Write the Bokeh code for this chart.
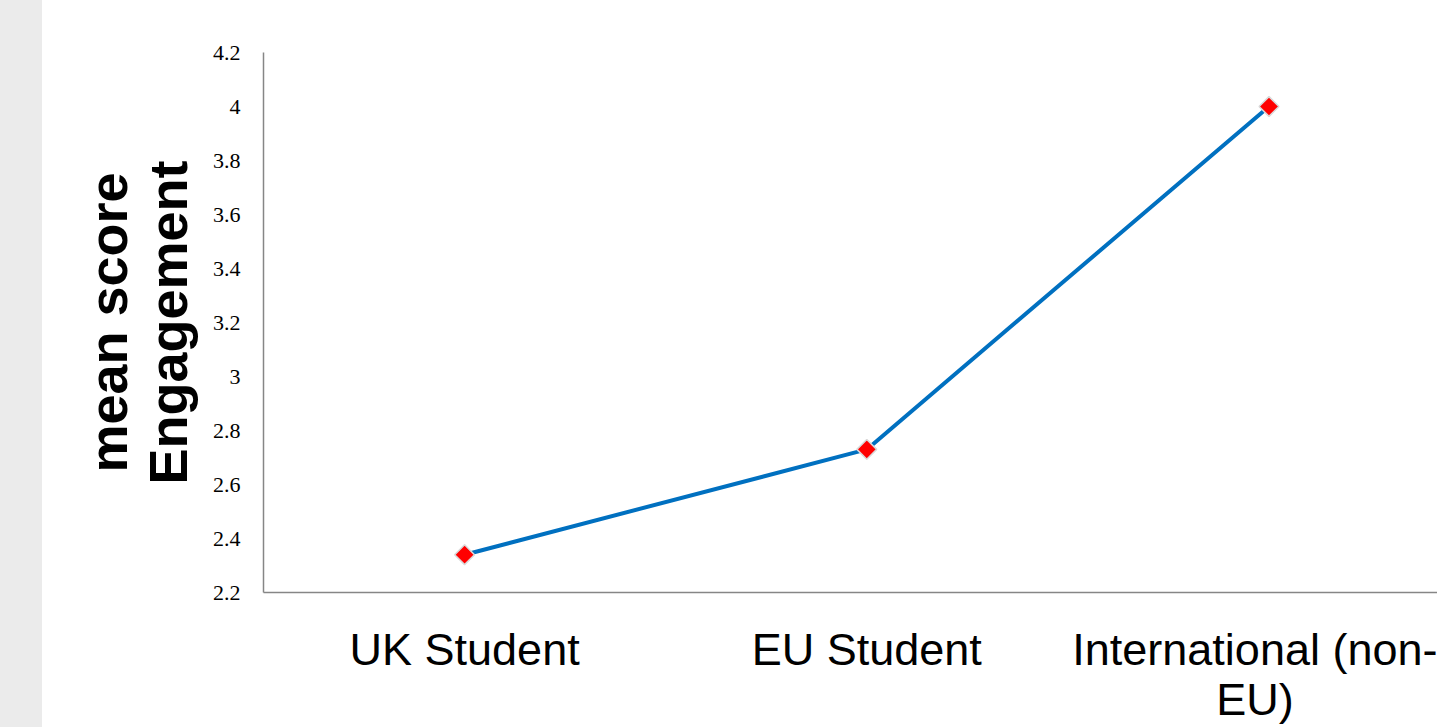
from bokeh.plotting import figure
from bokeh.models import Range1d, FixedTicker, NumeralTickFormatter, Spacer
from bokeh.layouts import row
from bokeh.embed import file_html
from bokeh.resources import INLINE
import math

# ---- data ----
categories = ["UK Student", "EU Student", "International (non-\nEU)"]
mean_scores = [2.34, 2.73, 4.00]
y_ticks = [2.2, 2.4, 2.6, 2.8, 3.0, 3.2, 3.4, 3.6, 3.8, 4.0, 4.2]

x_pos = list(range(len(categories)))

p = figure(
    width=1395, height=727,
    output_backend="svg", toolbar_location=None,
    x_range=Range1d(-0.5, 2.419), y_range=Range1d(2.2, 4.2),
    min_border_left=221, min_border_right=0, min_border_top=52, min_border_bottom=134,
)
p.outline_line_color = None
p.xgrid.visible = False
p.ygrid.visible = False
p.background_fill_color = "white"
p.border_fill_color = "white"

p.line(x_pos, mean_scores, line_color="#0070C0", line_width=4)
p.scatter(x_pos, mean_scores, marker="square", angle=math.pi / 4, size=14,
          fill_color="#FF0000", line_color="#D9D9D9", line_width=1.5)

# x axis
xa = p.xaxis[0]
xa.ticker = FixedTicker(ticks=x_pos)
xa.major_label_overrides = {i: c for i, c in zip(x_pos, categories)}
xa.major_tick_line_color = None
xa.minor_tick_line_color = None
xa.major_tick_out = 0
xa.major_tick_in = 0
xa.axis_line_color = "#868686"
xa.axis_line_width = 1.5
xa.major_label_standoff = 31
xa.major_label_text_font = "Liberation Sans"
xa.major_label_text_font_size = "45px"
xa.major_label_text_color = "black"
xa.major_label_text_line_height = 0.985

# y axis
ya = p.yaxis[0]
ya.ticker = FixedTicker(ticks=y_ticks)
ya.formatter = NumeralTickFormatter(format="0.[0]")
ya.major_tick_line_color = None
ya.minor_tick_line_color = None
ya.major_tick_out = 0
ya.major_tick_in = 0
ya.axis_line_color = "#868686"
ya.axis_line_width = 1.5
ya.major_label_standoff = 23
ya.major_label_text_font = "Liberation Serif"
ya.major_label_text_font_size = "22px"
ya.major_label_text_color = "black"
ya.axis_label = "mean score\nEngagement"
ya.axis_label_text_font = "Liberation Sans"
ya.axis_label_text_font_style = "bold"
ya.axis_label_text_font_size = "54px"
ya.axis_label_text_color = "black"
ya.axis_label_text_line_height = 1.0
ya.axis_label_standoff = 12

strip = Spacer(width=42, height=727, styles={"background-color": "#EBEBEB"})
layout = row(strip, p, spacing=0)

open("out.html", "w").write(file_html(layout, INLINE))
